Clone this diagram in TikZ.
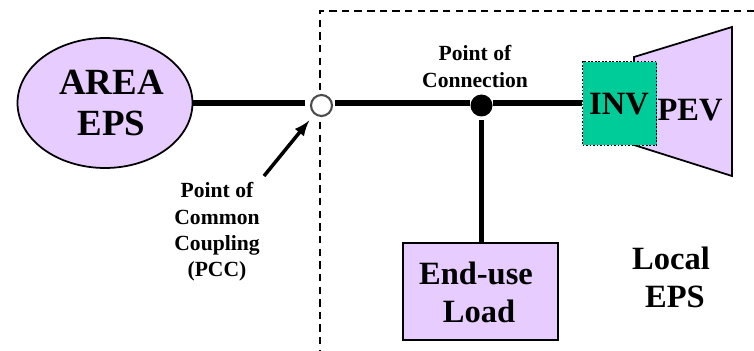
\documentclass[tikz,border=0pt]{standalone}
\usepackage{fontspec}
\setmainfont{Liberation Serif}
\usetikzlibrary{shapes.geometric}
\definecolor{lilac}{HTML}{E6CCFF}
\definecolor{invgreen}{HTML}{00CC99}
\tikzset{
  bus/.style={line width=3.4pt},
  bigtxt/.style={font=\fontsize{21}{23}\selectfont\bfseries,align=center,inner sep=0pt},
  midtxt/.style={font=\fontsize{18.5}{22}\selectfont\bfseries,align=center,inner sep=0pt},
  smalltxt/.style={font=\fontsize{12.3}{15}\selectfont\bfseries,align=center,inner sep=0pt},
  boundary/.style={line width=1pt,dash pattern=on 4.2pt off 3pt},
}
\begin{document}
\begin{tikzpicture}[x=0.02cm,y=-0.02cm]
     \useasboundingbox (0,0) rectangle (754,351);
     % area and local systems
     \node[ellipse,draw,fill=lilac,line width=1pt,minimum width=3.5cm,minimum height=2.6cm,inner sep=0pt] (area) at (105,103) {};
     \node[bigtxt] (areatxt) at (111.5,103) {AREA\\EPS};
     \coordinate (pevnw) at (634,57);
     \coordinate (pevne) at (732,27);
     \coordinate (pevse) at (732,176);
     \coordinate (pevsw) at (634,145);
     \draw[fill=lilac,line width=1pt] (pevnw) -- (pevne) -- (pevse) -- (pevsw) -- cycle;
     \node[midtxt] (pev) at (690,110) {PEV};
     \node[draw,densely dotted,fill=invgreen,line width=1pt,minimum width=1.48cm,minimum height=1.68cm] (inv) at (619.5,103.5) {};
     \node[midtxt] (invtxt) at (619,104) {INV};
     \node[draw,fill=lilac,line width=1pt,minimum width=3.1cm,minimum height=1.94cm] (load) at (480.5,291.5) {};
     \node[midtxt] (loadtxt) at (476,292.5) {End-use\\\hspace*{3.4pt}Load};
     \node[midtxt] (local) at (671,277.5) {Local\\\hspace*{4.5pt}EPS};
     % junctions
     \node[circle,draw=black!70,fill=white,line width=1.2pt,minimum size=0.42cm,inner sep=0pt] (pcc) at (321.5,105.5) {};
     \node[circle,fill=black,minimum size=0.44cm,inner sep=0pt] (poc) at (481.5,105.5) {};
     % dashed boundary
     \coordinate (bndtop) at (320,11);
     \coordinate (bndright) at (754,11);
     \coordinate (bndbot) at (320,350);
     \draw[boundary] (bndright) -- (bndtop) -- (pcc.north -| bndtop);
     \draw[boundary] (pcc.south -| bndtop) ++(0,5) -- (bndbot);
     % feeders
     \draw[bus,shorten >=2.8pt] (area.east) -- (area.east -| pcc.west);
     \draw[bus,shorten <=1.1pt] (area.east -| pcc.east) -- (area.east -| poc.west);
     \draw[bus] (area.east -| poc.east) -- (area.east -| inv.west);
     \draw[bus,shorten <=1.7pt] (poc.south) -- (poc.south |- load.north);
     % arrow and labels
     \coordinate (arrowtail) at (264,176);
     \draw[-latex,line width=2pt,shorten >=4.5pt] (arrowtail) -- (pcc);
     \node[smalltxt] (pocl) at (475,66.5) {Point of\\Connection};
     \node[smalltxt] (pccl) at (217,232) {Point of\\Common\\Coupling\\(PCC)};
\end{tikzpicture}
\end{document}
